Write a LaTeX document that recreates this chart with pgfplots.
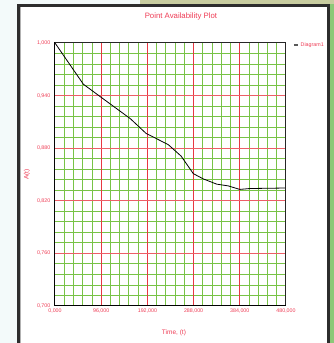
\documentclass[border=0pt]{standalone}
\usepackage{fontspec}
\setmainfont{Liberation Sans}
\usepackage{pgfplots}
\pgfplotsset{compat=1.18}
\definecolor{txtred}{RGB}{238,60,85}
\definecolor{gridred}{RGB}{232,55,65}
\definecolor{gridgreen}{RGB}{120,195,70}
\definecolor{framedark}{RGB}{45,45,45}
\definecolor{outside}{RGB}{243,250,250}
\definecolor{plant}{RGB}{140,200,120}
\definecolor{plantb}{RGB}{200,205,160}
\begin{document}
\begin{tikzpicture}[x=1pt,y=1pt]
\useasboundingbox (0,0) rectangle (334,343);
% screenshot surroundings
\fill[outside] (0,0) rectangle (17,343);
\fill[outside] (0,339) rectangle (140,343);
\fill[plantb] (140,339) rectangle (334,343);
\fill[plant] (330,0) rectangle (334,339);
\fill[framedark] (16.5,0) rectangle (19.5,339);
\fill[framedark] (16.5,336) rectangle (330,339);
\fill[framedark] (327,0) rectangle (330,339);
\fill[gray!60] (19.5,0) rectangle (20.5,336);
\begin{axis}[
  at={(55pt,37pt)}, anchor=south west,
  scale only axis, width=231pt, height=263pt,
  xmin=0, xmax=480, ymin=0.7, ymax=1.0,
  xtick={0,96,...,480}, ytick={0.7,0.76,...,1.01},
  minor tick num=4,
  xminorgrids=true, yminorgrids=true,
  minor grid style={gridgreen, line width=0.9pt},
  major tick length=0pt, minor tick length=0pt,
  axis line style={black, line width=1pt},
  /pgf/number format/assume math mode=true,
  /pgf/number format/.cd, fixed, fixed zerofill, precision=3, use comma, 1000 sep={},
  /pgfplots/.cd,
  ticklabel style={font=\fontsize{5.3}{6}\selectfont, text=txtred},
  yticklabel style={inner sep=0pt, xshift=-4.5pt},
  xticklabel style={inner sep=0pt, yshift=-2.5pt},
  title={Point Availability Plot},
  every axis title/.style={at={(0.545,1.099)}, anchor=center, font=\fontsize{7.8}{9}\selectfont, text=txtred, inner sep=0pt},
  xlabel={Time, (t)},
  xlabel style={at={(0.515,-0.103)}, anchor=center, font=\fontsize{6.5}{8}\selectfont, text=txtred, inner sep=0pt},
  ylabel={A(t)},
  ylabel style={at={(-0.121,0.5)}, anchor=center, font=\fontsize{6.5}{8}\selectfont, text=txtred, inner sep=0pt},
  legend style={at={(1.03,0.992)}, anchor=west, draw=none, fill=none, inner sep=0pt,
    font=\fontsize{5.3}{6}\selectfont, text=txtred, cells={anchor=west}},
  legend image code/.code={\draw[line width=1.6pt, black!65] (0pt,0pt) -- (4pt,0pt);},
]
% major grid (drawn under the curve, over the minor grid)
\pgfplotsinvokeforeach{96,192,288,384}{
  \draw[gridred, line width=1pt] (axis cs:#1,0.7) -- (axis cs:#1,1.0);
}
\pgfplotsinvokeforeach{0.76,0.82,0.88,0.94}{
  \draw[gridred!80, line width=1pt] (axis cs:0,#1) -- (axis cs:480,#1);
}
\addplot[black, line width=0.8pt] coordinates {
(0,1.000) (58.9,0.953) (96,0.938) (156.5,0.9137) (189,0.897) (235.5,0.884)
(262,0.871) (287.4,0.851) (308,0.845) (336,0.839) (360,0.837) (384,0.833)
(405,0.834) (480,0.8346)
};
\addlegendentry{Diagram1}
\draw[black!85, line width=1pt] (rel axis cs:0,0) rectangle (rel axis cs:1,1);
\draw[black, line width=1.3pt] (rel axis cs:0,0) -- (rel axis cs:1,0);
\end{axis}
\end{tikzpicture}
\end{document}
